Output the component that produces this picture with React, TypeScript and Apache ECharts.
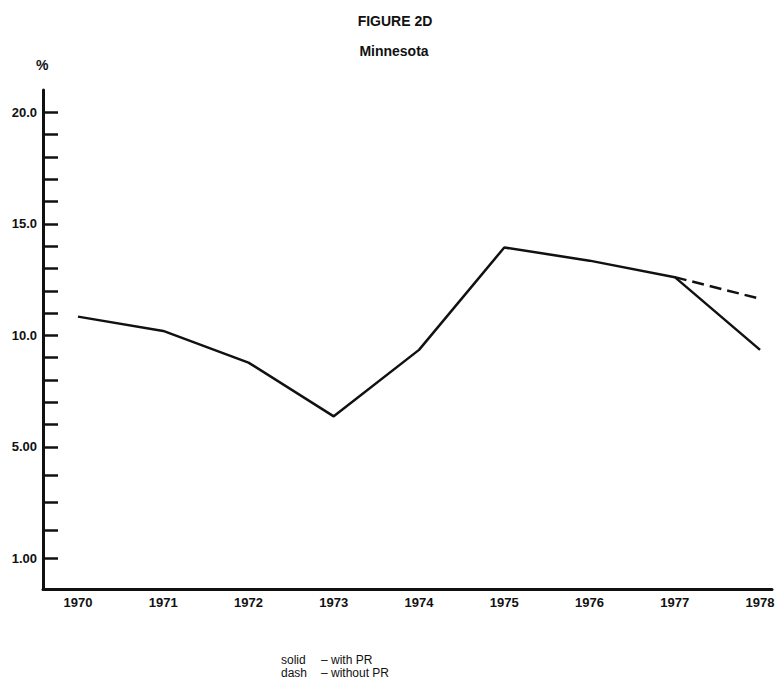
import React, { useEffect, useRef } from "react";
import * as echarts from "echarts";

const years = [1970, 1971, 1972, 1973, 1974, 1975, 1976, 1977, 1978];
const withPR = [10.84, 10.2, 8.78, 6.37, 9.35, 13.94, 13.35, 12.61, 9.35];
const withoutPRYears = [1977, 1978];
const withoutPR = [12.61, 11.64];
// tick positions on the drawn scale (the original's bottom segment is stretched)
const yTickPositions = [20, 19, 18, 17, 16, 15, 14, 13, 12, 11, 10, 9, 8, 7, 6, 5, 3.75, 2.5, 1.25, 0];
const yLabelPositions = [20, 15, 10, 5, 0];
const yLabelTexts = ["20.0", "15.0", "10.0", "5.00", "1.00"];
const legendKeys = ["solid", "dash"];
const legendTexts = ["\u2013 with PR", "\u2013 without PR"];

const FONT = "'Liberation Sans', Arial, sans-serif";

export default function App() {
  const ref = useRef<HTMLDivElement>(null);
  useEffect(() => {
    if (!ref.current) return;
    const chart = echarts.init(ref.current, null, { renderer: "svg" });
    const labelMap: Record<string, string> = {};
    yLabelPositions.forEach((p, i) => (labelMap[String(p)] = yLabelTexts[i]));
    const legendGraphics: any[] = [];
    legendKeys.forEach((k, i) => {
      legendGraphics.push({ type: "text", left: 281, top: 654 + i * 13, style: { text: k, font: `12px ${FONT}`, fill: "#111" } });
      legendGraphics.push({ type: "text", left: 321, top: 654 + i * 13, style: { text: legendTexts[i], font: `12px ${FONT}`, fill: "#111" } });
    });
    chart.setOption({
      animation: false,
      backgroundColor: "#ffffff",
      grid: { left: 43, right: 11, top: 90, bottom: 98, containLabel: false, outerBoundsMode: "none" },
      title: [
        { text: "FIGURE 2D", left: 390, top: 9, textAlign: "center",
          textStyle: { fontFamily: FONT, fontWeight: "bold", fontSize: 14, color: "#111" } },
        { text: "Minnesota", left: 389, top: 39, textAlign: "center",
          textStyle: { fontFamily: FONT, fontWeight: "bold", fontSize: 14, color: "#111" } },
      ],
      graphic: [
        { type: "text", left: 36, top: 58, style: { text: "%", font: `bold 14px ${FONT}`, fill: "#111" } },
        ...legendGraphics,
      ],
      xAxis: {
        type: "value",
        min: 1969.59,
        max: 1978.14,
        splitLine: { show: false },
        axisLine: { show: true, onZero: false, lineStyle: { color: "#111", width: 3 } },
        axisTick: { show: false },
        axisLabel: {
          customValues: years,
          formatter: (v: number) => String(v),
          margin: 7,
          fontFamily: FONT, fontWeight: "bold", fontSize: 13, color: "#111",
        },
      },
      yAxis: {
        type: "value",
        min: -1.37,
        max: 21,
        splitLine: { show: false },
        axisLine: { show: true, onZero: false, lineStyle: { color: "#111", width: 3 } },
        axisTick: { show: true, inside: true, length: 15, customValues: yTickPositions, lineStyle: { color: "#111", width: 2.5 } },
        axisLabel: {
          customValues: yLabelPositions,
          formatter: (v: number) => labelMap[String(v)] ?? "",
          margin: 6,
          fontFamily: FONT, fontWeight: "bold", fontSize: 13, color: "#111",
        },
      },
      series: [
        {
          type: "line",
          data: years.map((y, i) => [y, withPR[i]]),
          symbol: "none",
          lineStyle: { color: "#111", width: 2.5 },
        },
        {
          type: "line",
          data: withoutPRYears.map((y, i) => [y, withoutPR[i]]),
          symbol: "none",
          lineStyle: { color: "#111", width: 2.5, type: [12, 6] },
        },
      ],
    });
    return () => chart.dispose();
  }, []);
  return <div ref={ref} style={{ position: "absolute", left: 0, top: 0, width: 783, height: 687 }} />;
}
